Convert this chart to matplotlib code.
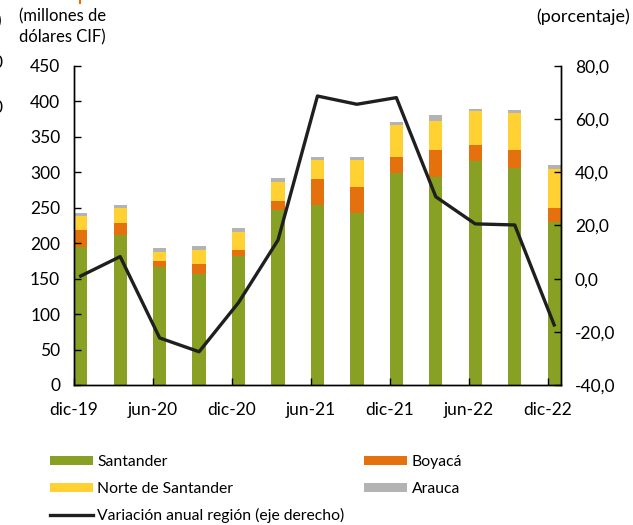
import matplotlib.pyplot as plt
import numpy as np

# Quarterly imports by department (millones de dólares CIF)
periodos = ["dic-19", "mar-20", "jun-20", "sep-20", "dic-20", "mar-21", "jun-21",
            "sep-21", "dic-21", "mar-22", "jun-22", "sep-22", "dic-22"]
santander = [194, 211, 167, 157, 182, 247, 254, 243, 299, 293, 316, 306, 230]
boyaca = [24, 18, 8, 14, 9, 12, 36, 36, 22, 38, 22, 26, 20]
norte_santander = [20, 20, 13, 20, 25, 28, 27, 38, 46, 42, 48, 52, 54]
arauca = [5, 5, 5, 5, 5, 5, 5, 5, 4, 8, 4, 4, 6]
variacion = [1.0, 8.3, -22.3, -27.5, -9.0, 14.5, 68.7, 65.6, 68.1, 30.8, 20.6, 20.2, -17.4]

tick_labels = ["dic-19", "jun-20", "dic-20", "jun-21", "dic-21", "jun-22", "dic-22"]

green = "#88A024"
orange = "#E4710E"
yellow = "#FFD133"
gray = "#B3B3B3"

plt.rcParams["font.family"] = ["Lato", "DejaVu Sans"]
plt.rcParams["font.size"] = 12.5

fig = plt.figure(figsize=(6.33, 5.25), dpi=100)
ax = fig.add_axes([0.117, 0.2667, 0.769, 0.6076])

x = np.arange(len(periodos))
w = 0.338
s = np.array(santander)
b = np.array(boyaca)
n = np.array(norte_santander)
a = np.array(arauca)

ax.bar(x, s, w, align="edge", color=green, label="Santander")
ax.bar(x, b, w, bottom=s, align="edge", color=orange, label="Boyacá")
ax.bar(x, n, w, bottom=s + b, align="edge", color=yellow, label="Norte de Santander")
ax.bar(x, a, w, bottom=s + b + n, align="edge", color=gray, label="Arauca")

ax.set_xlim(0, len(periodos) - 1 + w)
ax.set_ylim(0, 450)
ax.set_yticks(range(0, 451, 50))
ax.set_xticks(x[::2])
ax.set_xticklabels(tick_labels)
ax.tick_params(direction="in", length=5, width=1, pad=10)
ax.tick_params(axis="x", pad=12)
ax.spines["top"].set_visible(False)

ax2 = ax.twinx()
line, = ax2.plot(x + w / 2, variacion, color="#1F1F1F", lw=2.4,
                 label="Variación anual región (eje derecho)")
ax2.set_ylim(-40, 80)
ax2.set_yticks(range(-40, 81, 20))
ax2.set_yticklabels([f"{v:.1f}".replace(".", ",") for v in range(-40, 81, 20)])
ax2.tick_params(direction="in", length=5, width=1, pad=10)
ax2.spines["top"].set_visible(False)
for sp in ["left", "right", "bottom"]:
    ax.spines[sp].set_linewidth(1)
    ax2.spines[sp].set_linewidth(1)

fig.text(0.099, 0.984, "(millones de\ndólares CIF)", ha="center", va="top",
         fontsize=12, linespacing=1.35)
fig.text(0.996, 0.984, "(porcentaje)", ha="right", va="top", fontsize=13)

# remnants of a neighbouring chart cut off at the left edge
fig.text(-0.006, 0.975, ")", ha="left", va="top")
fig.text(-0.012, 0.88, "0", ha="left", va="center")
fig.text(-0.012, 0.795, "0", ha="left", va="center")
fig.add_artist(plt.Line2D([0.127, 0.127], [0.994, 1.0], color=orange, lw=1.5))

handles, labels = ax.get_legend_handles_labels()
hmap = dict(zip(labels, handles))
leg_kw = dict(loc="upper left", frameon=False, handlelength=2.75, handleheight=0.5,
              handletextpad=0.3, labelspacing=0.8, borderpad=0, fontsize=11.3)
leg1 = fig.legend([hmap["Santander"], hmap["Norte de Santander"], line],
                  ["Santander", "Norte de Santander",
                   "Variación anual región (eje derecho)"],
                  bbox_to_anchor=(0.066, 0.148), **leg_kw)
leg2 = fig.legend([hmap["Boyacá"], hmap["Arauca"]], ["Boyacá", "Arauca"],
                  bbox_to_anchor=(0.562, 0.148), **leg_kw)

fig.savefig("out.png", dpi=100)
